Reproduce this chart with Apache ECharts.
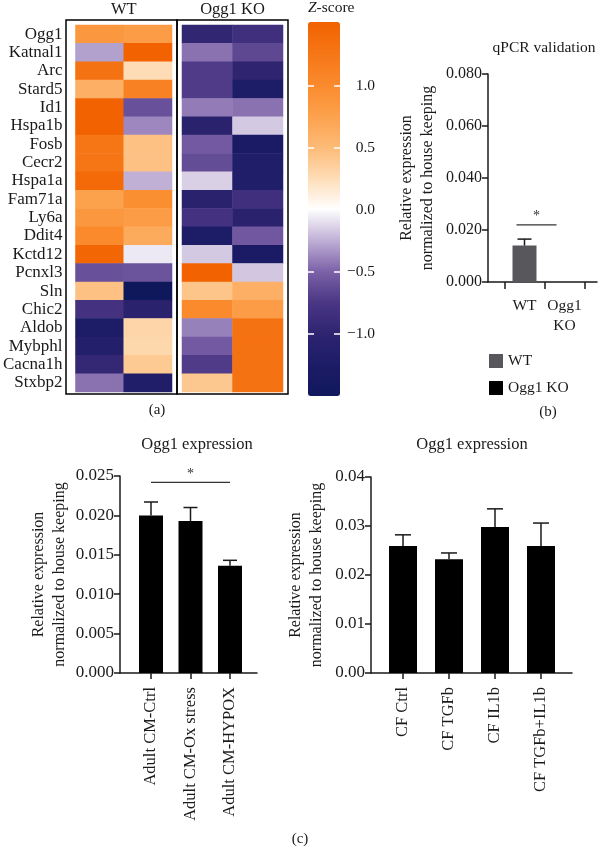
<!DOCTYPE html>
<html><head><meta charset="utf-8">
<script src="https://cdn.jsdelivr.net/npm/echarts@6/dist/echarts.min.js"></script>
<style>html,body{margin:0;padding:0;background:#fff}#c{width:603px;height:851px}</style>
</head><body><div id="c"></div>
<script>
// ---------- data ----------
const genes = ['Ogg1','Katnal1','Arc','Stard5','Id1','Hspa1b','Fosb','Cecr2','Hspa1a','Fam71a','Ly6a','Ddit4','Kctd12','Pcnxl3','Sln','Chic2','Aldob','Mybphl','Cacna1h','Stxbp2'];
const wtRep1 = [0.85,-0.3,1.3,0.6,1.5,1.5,1.25,1.25,1.4,0.75,0.85,1.0,1.45,-0.6,0.45,-0.8,-1.25,-1.15,-0.95,-0.45];
const wtRep2 = [0.8,1.5,0.25,1.1,-0.6,-0.38,0.45,0.45,-0.25,0.95,0.8,0.65,-0.07,-0.58,-1.5,-1.05,0.3,0.28,0.38,-1.2];
const koRep1 = [-0.97,-0.45,-0.72,-0.72,-0.42,-1.05,-0.55,-0.62,-0.15,-1.05,-0.8,-1.25,-0.17,1.5,0.42,1.0,-0.4,-0.55,-0.72,0.4];
const koRep2 = [-0.85,-0.65,-1.0,-1.25,-0.45,-0.17,-1.3,-1.2,-1.2,-0.85,-1.05,-0.56,-1.3,-0.18,0.6,0.8,1.3,1.3,1.3,1.3];
const heatCols = ['WT','Ogg1 KO'];
const zTicks = [-1.0,-0.5,0.0,0.5,1.0];

const qpcrGroups = ['WT','Ogg1 KO'];
const qpcrMean = [0.0140, 0];
const qpcrErr = [0.0025, 0];
const qpcrSig = {from:0, to:1, y:0.022};

const cmGroups = ['Adult CM-Ctrl','Adult CM-Ox stress','Adult CM-HYPOX'];
const cmMean = [0.0200, 0.0193, 0.0136];
const cmErr = [0.0017, 0.0017, 0.0007];
const cmSig = {from:0, to:2, y:0.0242};

const cfGroups = ['CF Ctrl','CF TGFb','CF IL1b','CF TGFb+IL1b'];
const cfMean = [0.0259, 0.0232, 0.0298, 0.0259];
const cfErr = [0.0023, 0.0013, 0.0037, 0.0047];

// ---------- helpers ----------
const FONT = 'Liberation Serif';
const INK = '#1a1a1a';
const axisLine = {show:true, onZero:false, lineStyle:{color:INK, width:1.5}};
const axisTick = {show:true, length:6, lineStyle:{color:INK, width:1.5}};

function errSeries(xi, yi, means, errs, halfW){
  return {type:'custom', xAxisIndex:xi, yAxisIndex:yi, z:5, silent:true,
    data: means.map((m,i)=>[i,m,errs[i]]),
    renderItem(params, api){
      const x=api.value(0), m=api.value(1), e=api.value(2);
      if(!e) return null;
      const p0=api.coord([x,m]), p1=api.coord([x,m+e]);
      return {type:'group', children:[
        {type:'line', shape:{x1:p0[0],y1:p0[1],x2:p1[0],y2:p1[1]}, style:{stroke:INK,lineWidth:1.5}},
        {type:'line', shape:{x1:p1[0]-halfW,y1:p1[1],x2:p1[0]+halfW,y2:p1[1]}, style:{stroke:INK,lineWidth:1.5}}
      ]};
    }};
}
function sigSeries(xi, yi, sig, shift){
  return {type:'custom', xAxisIndex:xi, yAxisIndex:yi, z:5, silent:true,
    data:[[sig.from+shift, sig.y, sig.to+shift]],
    renderItem(params, api){
      const a=api.coord([api.value(0),api.value(1)]), b=api.coord([api.value(2),api.value(1)]);
      return {type:'group', children:[
        {type:'line', shape:{x1:a[0],y1:a[1],x2:b[0],y2:b[1]}, style:{stroke:'#333',lineWidth:1.3}},
        {type:'text', x:(a[0]+b[0])/2, y:a[1]-1, style:{text:'*', fill:'#333', font:'14px "'+FONT+'"', align:'center', verticalAlign:'bottom'}}
      ]};
    }};
}
function barXAxis(grid, min, max, groups, opts){
  const idx = groups.map((g,i)=>i);
  return Object.assign({gridIndex:grid, type:'value', min:min, max:max,
    axisLine:axisLine, splitLine:{show:false},
    axisTick:Object.assign({}, axisTick, {customValues:idx}),
    axisLabel:{customValues:idx, formatter:v=>groups[Math.round(v)], color:INK, fontFamily:FONT, fontSize:16.5, rotate:90, margin:14}
  }, opts||{});
}
function barYAxis(grid, max, interval, digits, gap, size){
  return {gridIndex:grid, type:'value', min:0, max:max, interval:interval,
    axisLine:axisLine, axisTick:axisTick, splitLine:{show:false},
    axisLabel:{formatter:v=>v.toFixed(digits), color:INK, fontFamily:FONT, fontSize:size, margin:6},
    name:'Relative expression\nnormalized to house keeping', nameLocation:'middle', nameRotate:90, nameGap:gap,
    nameTextStyle:{color:INK, fontFamily:FONT, fontSize:16, lineHeight:21}};
}

const heatData = (a,b)=>genes.flatMap((g,i)=>[[0,i,a[i]],[1,i,b[i]]]);
const titleStyle = (size)=>({fontFamily:FONT, fontSize:size, fontWeight:'normal', color:INK});

const option = {
  animation:false,
  textStyle:{fontFamily:FONT, color:INK},
  title:[
    {text:'qPCR validation', left:544, top:40, textAlign:'center', padding:0, textStyle:titleStyle(15.5)},
    {text:'Ogg1 expression', left:197, top:436, textAlign:'center', padding:0, textStyle:titleStyle(16.5)},
    {text:'Ogg1 expression', left:472, top:436, textAlign:'center', padding:0, textStyle:titleStyle(16.5)},
    {text:'(a)', left:157, top:403, textAlign:'center', padding:0, textStyle:titleStyle(15)},
    {text:'(b)', left:548, top:405, textAlign:'center', padding:0, textStyle:titleStyle(15)},
    {text:'(c)', left:300, top:832, textAlign:'center', padding:0, textStyle:titleStyle(15)}
  ],
  legend:{data:qpcrGroups, orient:'vertical', left:489, top:353, itemWidth:14, itemHeight:14, itemGap:11, icon:'rect', padding:0,
    textStyle:{fontFamily:FONT, fontSize:15.5, color:INK}},
  visualMap:{type:'continuous', min:-1.5, max:1.5, seriesIndex:[0,1], calculable:false, orient:'vertical',
    left:308, top:22, itemWidth:32, itemHeight:374, padding:0, text:null, hoverLink:false,
    inRange:{color:['#10185c','#1d1c66','#2e2470','#4a3684','#7c62a8','#c0b0d6','#ffffff','#fedcb5','#fdba76','#fca14c','#fa8a2c','#f67616','#f26200']}},
  grid:[
    {left:71, top:22, width:101, height:370},
    {left:182, top:22, width:101, height:370},
    {left:66, top:20, width:111, height:374, show:true, borderColor:'#000', borderWidth:1.5, backgroundColor:'transparent'},
    {left:177, top:20, width:111, height:374, show:true, borderColor:'#000', borderWidth:1.5, backgroundColor:'transparent'},
    {left:308, top:22, width:32, height:374},
    {left:488, top:74, width:109, height:208},
    {left:120, top:476, width:137, height:197},
    {left:371, top:477, width:201, height:196}
  ],
  xAxis:[
    {gridIndex:0, type:'category', data:['1','2'], position:'top', axisLine:{show:false}, axisTick:{show:false}, axisLabel:{show:false},
      name:heatCols[0], nameLocation:'middle', nameGap:7, nameTextStyle:{fontFamily:FONT, fontSize:16.5, color:INK}},
    {gridIndex:1, type:'category', data:['1','2'], position:'top', axisLine:{show:false}, axisTick:{show:false}, axisLabel:{show:false},
      name:heatCols[1], nameLocation:'middle', nameGap:7, nameTextStyle:{fontFamily:FONT, fontSize:16.5, color:INK}},
    {gridIndex:2, type:'value', show:false},
    {gridIndex:3, type:'value', show:false},
    {gridIndex:4, type:'value', show:false},
    barXAxis(5, -0.9125, 1.8125, qpcrGroups, {
      axisTick:Object.assign({}, axisTick, {length:7, customValues:[-0.5,0.5,1.5]}),
      axisLabel:{customValues:[0,1], formatter:v=>qpcrGroups[Math.round(v)].replace(' ','\n'), color:INK, fontFamily:FONT, fontSize:15.5, lineHeight:20, margin:14}
    }),
    barXAxis(6, -0.785, 2.684, cmGroups),
    barXAxis(7, -0.696, 3.674, cfGroups)
  ],
  yAxis:[
    {gridIndex:0, type:'category', data:genes, inverse:true, axisLine:{show:false}, axisTick:{show:false},
      axisLabel:{interval:0, color:INK, fontFamily:FONT, fontSize:17, margin:13}},
    {gridIndex:1, type:'category', data:genes, inverse:true, axisLine:{show:false}, axisTick:{show:false}, axisLabel:{show:false}},
    {gridIndex:2, type:'value', show:false},
    {gridIndex:3, type:'value', show:false},
    {gridIndex:4, type:'value', min:-1.5, max:1.5, position:'left', z:10,
      axisLine:{show:false}, splitLine:{show:false}, axisLabel:{show:false},
      axisTick:{show:true, inside:true, length:6, customValues:[-1,-0.5,0.5,1], lineStyle:{color:'#fff', width:1.5}},
      name:'{i|Z}-score', nameLocation:'end', nameGap:8,
      nameTextStyle:{fontFamily:FONT, fontSize:15.5, color:INK, align:'left', rich:{i:{fontStyle:'italic', fontFamily:FONT, fontSize:15.5, color:INK}}}},
    {gridIndex:4, type:'value', min:-1.5, max:1.5, position:'right', z:10,
      axisLine:{show:false}, splitLine:{show:false},
      axisTick:{show:true, inside:true, length:6, customValues:[-1,-0.5,0.5,1], lineStyle:{color:'#fff', width:1.5}},
      axisLabel:{customValues:zTicks, formatter:v=>(v<0?'\u2212':'')+Math.abs(v).toFixed(1), align:'right', margin:35, color:INK, fontFamily:FONT, fontSize:15.5}},
    barYAxis(5, 0.08, 0.02, 3, 50, 16),
    barYAxis(6, 0.025, 0.005, 3, 50, 17),
    barYAxis(7, 0.04, 0.01, 2, 44, 17)
  ],
  series:[
    {type:'heatmap', xAxisIndex:0, yAxisIndex:0, data:heatData(wtRep1, wtRep2), itemStyle:{borderWidth:0}, emphasis:{disabled:true}},
    {type:'heatmap', xAxisIndex:1, yAxisIndex:1, data:heatData(koRep1, koRep2), itemStyle:{borderWidth:0}, emphasis:{disabled:true}},
    {type:'bar', name:qpcrGroups[0], xAxisIndex:5, yAxisIndex:6, barWidth:24, barGap:'-100%', data:[[0, qpcrMean[0]]], itemStyle:{color:'#58585c'}},
    {type:'bar', name:qpcrGroups[1], xAxisIndex:5, yAxisIndex:6, barWidth:24, barGap:'-100%', data:[[1, qpcrMean[1]]], itemStyle:{color:'#000'}},
    errSeries(5, 6, qpcrMean, qpcrErr, 7),
    sigSeries(5, 6, qpcrSig, -0.2),
    {type:'bar', xAxisIndex:6, yAxisIndex:7, barWidth:24, data:cmMean.map((v,i)=>[i,v]), itemStyle:{color:'#000'}},
    errSeries(6, 7, cmMean, cmErr, 7),
    sigSeries(6, 7, cmSig, 0),
    {type:'bar', xAxisIndex:7, yAxisIndex:8, barWidth:28, data:cfMean.map((v,i)=>[i,v]), itemStyle:{color:'#000'}},
    errSeries(7, 8, cfMean, cfErr, 8)
  ]
};
const chart = echarts.init(document.getElementById('c'), null, {renderer:'canvas'});
chart.setOption(option);
</script>
</body></html>
